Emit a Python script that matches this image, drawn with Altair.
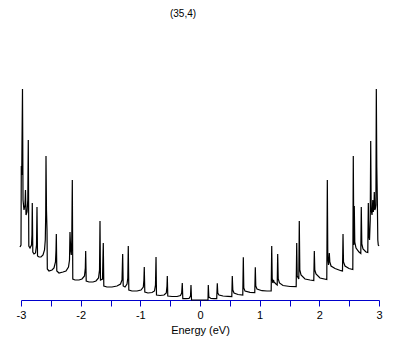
import altair as alt
import pandas as pd

# Density of states of a (35,4) nanotube
energy = [
    -3.017, -3.000, -2.995, -2.988, -2.975, -2.966, -2.950, -2.933, -2.925, -2.916,
    -2.899, -2.886, -2.878, -2.869, -2.849, -2.824, -2.816, -2.811, -2.802, -2.782,
    -2.757, -2.740, -2.732, -2.723, -2.698, -2.665, -2.631, -2.606, -2.593, -2.586,
    -2.581, -2.573, -2.564, -2.559, -2.531, -2.480, -2.447, -2.422, -2.413, -2.408,
    -2.400, -2.363, -2.296, -2.246, -2.204, -2.187, -2.179, -2.167, -2.157, -2.149,
    -2.140, -2.132, -2.095, -2.028, -1.978, -1.936, -1.922, -1.916, -1.907, -1.860,
    -1.793, -1.743, -1.701, -1.684, -1.676, -1.668, -1.634, -1.621, -1.612, -1.559,
    -1.475, -1.391, -1.332, -1.307, -1.296, -1.287, -1.257, -1.223, -1.210, -1.202,
    -1.193, -1.140, -1.056, -0.989, -0.950, -0.940, -0.934, -0.925, -0.872, -0.804,
    -0.763, -0.746, -0.737, -0.729, -0.670, -0.603, -0.565, -0.553, -0.548, -0.540,
    -0.469, -0.385, -0.327, -0.307, -0.297, -0.288, -0.235, -0.184, -0.159, -0.151,
    -0.142,
    0.134, 0.139, 0.148, 0.184, 0.235, 0.280, 0.290, 0.298, 0.318, 0.386,
    0.469, 0.533, 0.541, 0.550, 0.570, 0.637, 0.717, 0.726, 0.734, 0.754,
    0.838, 0.918, 0.927, 0.935, 0.955, 1.039, 1.123, 1.193, 1.202, 1.210,
    1.220, 1.232, 1.240, 1.274, 1.294, 1.302, 1.311, 1.332, 1.391, 1.508,
    1.612, 1.621, 1.629, 1.656, 1.664, 1.673, 1.693, 1.760, 1.844, 1.907,
    1.916, 1.924, 1.944, 2.011, 2.125, 2.134, 2.142, 2.154, 2.167, 2.176,
    2.196, 2.263, 2.363, 2.388, 2.397, 2.405, 2.430, 2.497, 2.561, 2.569,
    2.578, 2.586, 2.594, 2.615, 2.665, 2.695, 2.703, 2.712, 2.732, 2.782,
    2.812, 2.821, 2.829, 2.841, 2.853, 2.861, 2.869, 2.883, 2.896, 2.905,
    2.916, 2.921, 2.930, 2.941, 2.948, 2.955, 2.963, 2.972, 2.980, 2.988,
    3.000,
]
dos = [
    0.53, 0.55, 1.34, 1.25, 2.11, 1.00, 0.90, 0.95, 1.10, 0.85,
    0.88, 1.00, 1.60, 0.54, 0.52, 0.55, 0.65, 0.97, 0.48, 0.46,
    0.47, 0.55, 0.93, 0.44, 0.43, 0.43, 0.45, 0.50, 0.60, 0.85,
    1.44, 0.90, 0.70, 0.31, 0.29, 0.30, 0.32, 0.38, 0.50, 0.66,
    0.29, 0.27, 0.28, 0.29, 0.33, 0.40, 0.68, 0.50, 0.45, 0.60,
    1.20, 0.21, 0.20, 0.20, 0.21, 0.24, 0.32, 0.49, 0.19, 0.18,
    0.18, 0.19, 0.22, 0.30, 0.79, 0.20, 0.21, 0.57, 0.14, 0.13,
    0.13, 0.14, 0.16, 0.20, 0.46, 0.14, 0.13, 0.16, 0.22, 0.54,
    0.10, 0.09, 0.09, 0.10, 0.13, 0.20, 0.33, 0.08, 0.07, 0.075,
    0.09, 0.15, 0.43, 0.05, 0.045, 0.05, 0.07, 0.14, 0.24, 0.04,
    0.035, 0.035, 0.045, 0.07, 0.17, 0.013, 0.013, 0.015, 0.04, 0.15,
    0.0,
    0.0, 0.15, 0.03, 0.015, 0.013, 0.013, 0.167, 0.07, 0.05, 0.04,
    0.037, 0.035, 0.24, 0.10, 0.07, 0.055, 0.05, 0.427, 0.12, 0.09,
    0.077, 0.075, 0.327, 0.14, 0.11, 0.093, 0.09, 0.09, 0.54, 0.22,
    0.17, 0.20, 0.18, 0.16, 0.15, 0.46, 0.21, 0.17, 0.145, 0.135,
    0.133, 0.57, 0.24, 0.21, 0.79, 0.30, 0.25, 0.21, 0.20, 0.195,
    0.49, 0.30, 0.26, 0.22, 0.205, 1.20, 0.42, 0.35, 0.47, 0.38,
    0.34, 0.315, 0.293, 0.29, 0.66, 0.38, 0.34, 0.315, 0.305, 1.44,
    0.55, 0.94, 0.58, 0.52, 0.48, 0.465, 0.93, 0.56, 0.51, 0.48,
    0.475, 0.97, 0.65, 0.60, 0.80, 1.59, 0.90, 0.85, 1.00, 0.88,
    0.95, 1.08, 0.90, 0.92, 0.95, 2.11, 1.33, 1.00, 0.60, 0.55,
    0.54,
]
tick_values = [-3, -2.5, -2, -1.5, -1, -0.5, 0, 0.5, 1, 1.5, 2, 2.5, 3]

df = pd.DataFrame({"energy": energy, "dos": dos, "idx": list(range(len(energy)))})

chart = alt.Chart(df).mark_line(color="black", strokeWidth=1.2).encode(
    x=alt.X(
        "energy:Q",
        scale=alt.Scale(domain=[-3, 3], nice=False, zero=False),
        axis=alt.Axis(
            values=tick_values,
            labelExpr="datum.value % 1 == 0 ? toString(datum.value) : ''",
            grid=False,
            domainColor="#0000CC",
            tickColor="#0000CC",
            tickSize=6,
            labelColor="black",
            labelFont="Liberation Sans",
            labelFontSize=11,
            labelPadding=3,
            labelFlush=False,
            titleFont="Liberation Sans",
            titleFontSize=11,
            titleFontWeight="normal",
            titleColor="black",
            titlePadding=4,
        ),
        title="Energy (eV)",
    ),
    y=alt.Y("dos:Q", scale=alt.Scale(domain=[0, 2.8], nice=False), axis=None),
    order=alt.Order("idx:Q"),
).properties(
    width=358,
    height=280,
    title=alt.TitleParams(
        "(35,4)", fontSize=10, fontWeight="normal", font="Liberation Sans",
        color="black", dx=-17, offset=-9, frame="group", anchor="middle", baseline="bottom",
    ),
    autosize=alt.AutoSizeParams(type="none"),
    padding={"left": 13, "top": 12, "right": 15, "bottom": 40},
).configure_view(stroke=None)

chart.save("out.html", embed_options={"renderer": "svg", "actions": False})
